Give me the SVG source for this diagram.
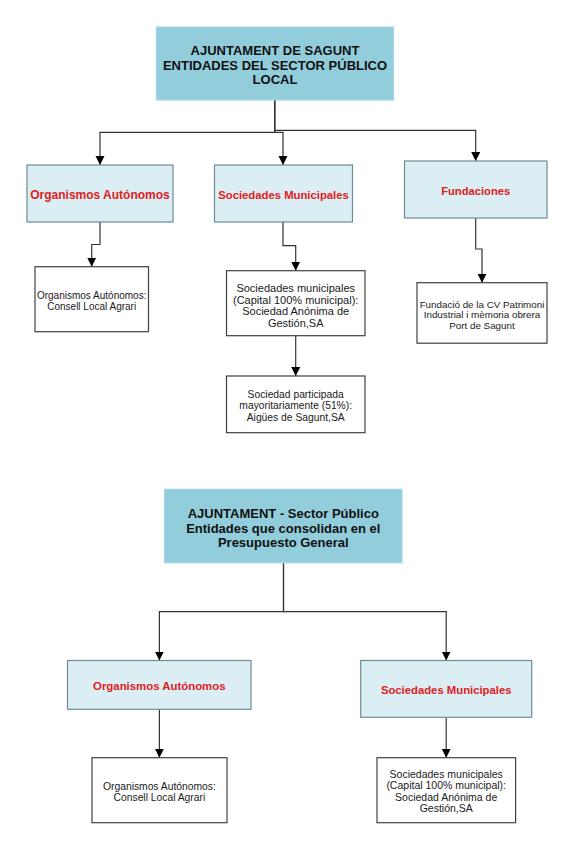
<svg xmlns="http://www.w3.org/2000/svg" width="586" height="850" viewBox="0 0 586 850">
<defs>
<style>
.head{fill:#92CDDC;stroke:#A6D8E5;stroke-width:1.2}
.sub{fill:#DAEEF3;stroke:#6F8D97;stroke-width:1.2}
.leaf{fill:#FFFFFF;stroke:#404040;stroke-width:1.2}
.ht{font-family:"Liberation Sans",Arial,sans-serif;font-weight:bold;font-size:13px;fill:#111;text-anchor:middle}
.st{font-family:"Liberation Sans",Arial,sans-serif;font-weight:bold;fill:#E0201E;text-anchor:middle}
.lt{font-family:"Liberation Sans",Arial,sans-serif;fill:#1a1a1a;text-anchor:middle}
.cn{fill:none;stroke:#333;stroke-width:1.2}
</style>
<marker id="arr" markerUnits="userSpaceOnUse" markerWidth="10" markerHeight="10" refX="9" refY="4.5" orient="auto">
<path d="M0,0 L9,4.5 L0,9 z" fill="#000"/>
</marker>
</defs>
<rect width="586" height="850" fill="#FFFFFF"/>

<g id="connectors">
<path class="cn" d="M274.7,100 V132.3 H100 V165" marker-end="url(#arr)"/>
<path class="cn" d="M274.7,100 V132.3 H283 V165" marker-end="url(#arr)"/>
<path class="cn" d="M274.7,100 V130.3 H475.7 V161" marker-end="url(#arr)"/>
<path class="cn" d="M100,222 V244.5 H91.7 V266.7" marker-end="url(#arr)"/>
<path class="cn" d="M283,222 V245.7 H295.7 V270.7" marker-end="url(#arr)"/>
<path class="cn" d="M295.7,335.7 V376" marker-end="url(#arr)"/>
<path class="cn" d="M475.7,218 V249 H482 V282.7" marker-end="url(#arr)"/>
<path class="cn" d="M283.5,562.8 V611.7 H159.4 V660.5" marker-end="url(#arr)"/>
<path class="cn" d="M283.5,562.8 V611.7 H446.2 V660.5" marker-end="url(#arr)"/>
<path class="cn" d="M159.4,709.3 V757.7" marker-end="url(#arr)"/>
<path class="cn" d="M446.2,717.3 V757.7" marker-end="url(#arr)"/>
</g>

<g id="top1">
<rect class="head" x="156.5" y="27" width="237" height="73"/>
<text class="ht" x="275" y="55.4">AJUNTAMENT DE SAGUNT</text>
<text class="ht" x="275" y="69.7">ENTIDADES DEL SECTOR PÚBLICO</text>
<text class="ht" x="275" y="84">LOCAL</text>
</g>

<g id="org1">
<rect class="sub" x="27" y="165" width="146" height="57"/>
<text class="st" x="100" y="199" font-size="12">Organismos Autónomos</text>
</g>

<g id="soc1">
<rect class="sub" x="214.5" y="165" width="138" height="57"/>
<text class="st" x="283.5" y="199" font-size="11.3">Sociedades Municipales</text>
</g>

<g id="fund1">
<rect class="sub" x="404.5" y="161" width="142.5" height="57"/>
<text class="st" x="475.7" y="194.7" font-size="11.2">Fundaciones</text>
</g>

<g id="orgleaf1">
<rect class="leaf" x="35" y="266.7" width="113.5" height="65"/>
<text class="lt" x="91.7" y="299.2" font-size="10">Organismos Autónomos:</text>
<text class="lt" x="91.7" y="309.6" font-size="10">Consell Local Agrari</text>
</g>

<g id="socleaf1">
<rect class="leaf" x="226.5" y="270.7" width="138.5" height="65"/>
<text class="lt" x="295.7" y="292" font-size="11">Sociedades municipales</text>
<text class="lt" x="295.7" y="303.7" font-size="11">(Capital 100% municipal):</text>
<text class="lt" x="295.7" y="315.4" font-size="11">Sociedad Anónima de</text>
<text class="lt" x="295.7" y="327.1" font-size="11">Gestión,SA</text>
</g>

<g id="socleaf2">
<rect class="leaf" x="226.5" y="376" width="138.5" height="56.7"/>
<text class="lt" x="295.7" y="398" font-size="10.3">Sociedad participada</text>
<text class="lt" x="295.7" y="409.4" font-size="10.3">mayoritariamente (51%):</text>
<text class="lt" x="295.7" y="420.7" font-size="10.3">Aigües de Sagunt,SA</text>
</g>

<g id="fundleaf1">
<rect class="leaf" x="417" y="282.7" width="130" height="60.5"/>
<text class="lt" x="482" y="307.5" font-size="9.8">Fundació de la CV Patrimoni</text>
<text class="lt" x="482" y="318.3" font-size="9.8">Industrial i mèmoria obrera</text>
<text class="lt" x="482" y="329.2" font-size="9.8">Port de Sagunt</text>
</g>

<g id="top2">
<rect class="head" x="164.5" y="489.3" width="237.5" height="73.5"/>
<text class="ht" x="283.3" y="517.9">AJUNTAMENT - Sector Público</text>
<text class="ht" x="283.3" y="532.6">Entidades que consolidan en el</text>
<text class="ht" x="283.3" y="546.9">Presupuesto General</text>
</g>

<g id="org2">
<rect class="sub" x="67.5" y="660.5" width="183.5" height="48.8"/>
<text class="st" x="159.3" y="690" font-size="11.4">Organismos Autónomos</text>
</g>

<g id="soc2">
<rect class="sub" x="360.7" y="660.5" width="171" height="56.8"/>
<text class="st" x="446.2" y="694" font-size="11.3">Sociedades Municipales</text>
</g>

<g id="orgleaf2">
<rect class="leaf" x="92" y="757.7" width="135" height="65"/>
<text class="lt" x="159.4" y="790.4" font-size="10.3">Organismos Autónomos:</text>
<text class="lt" x="159.4" y="801.4" font-size="10.3">Consell Local Agrari</text>
</g>

<g id="socleaf3">
<rect class="leaf" x="377" y="757.7" width="138.6" height="65"/>
<text class="lt" x="446.2" y="778" font-size="10.5">Sociedades municipales</text>
<text class="lt" x="446.2" y="789.4" font-size="10.5">(Capital 100% municipal):</text>
<text class="lt" x="446.2" y="801" font-size="10.5">Sociedad Anónima de</text>
<text class="lt" x="446.2" y="812.4" font-size="10.5">Gestión,SA</text>
</g>
</svg>
